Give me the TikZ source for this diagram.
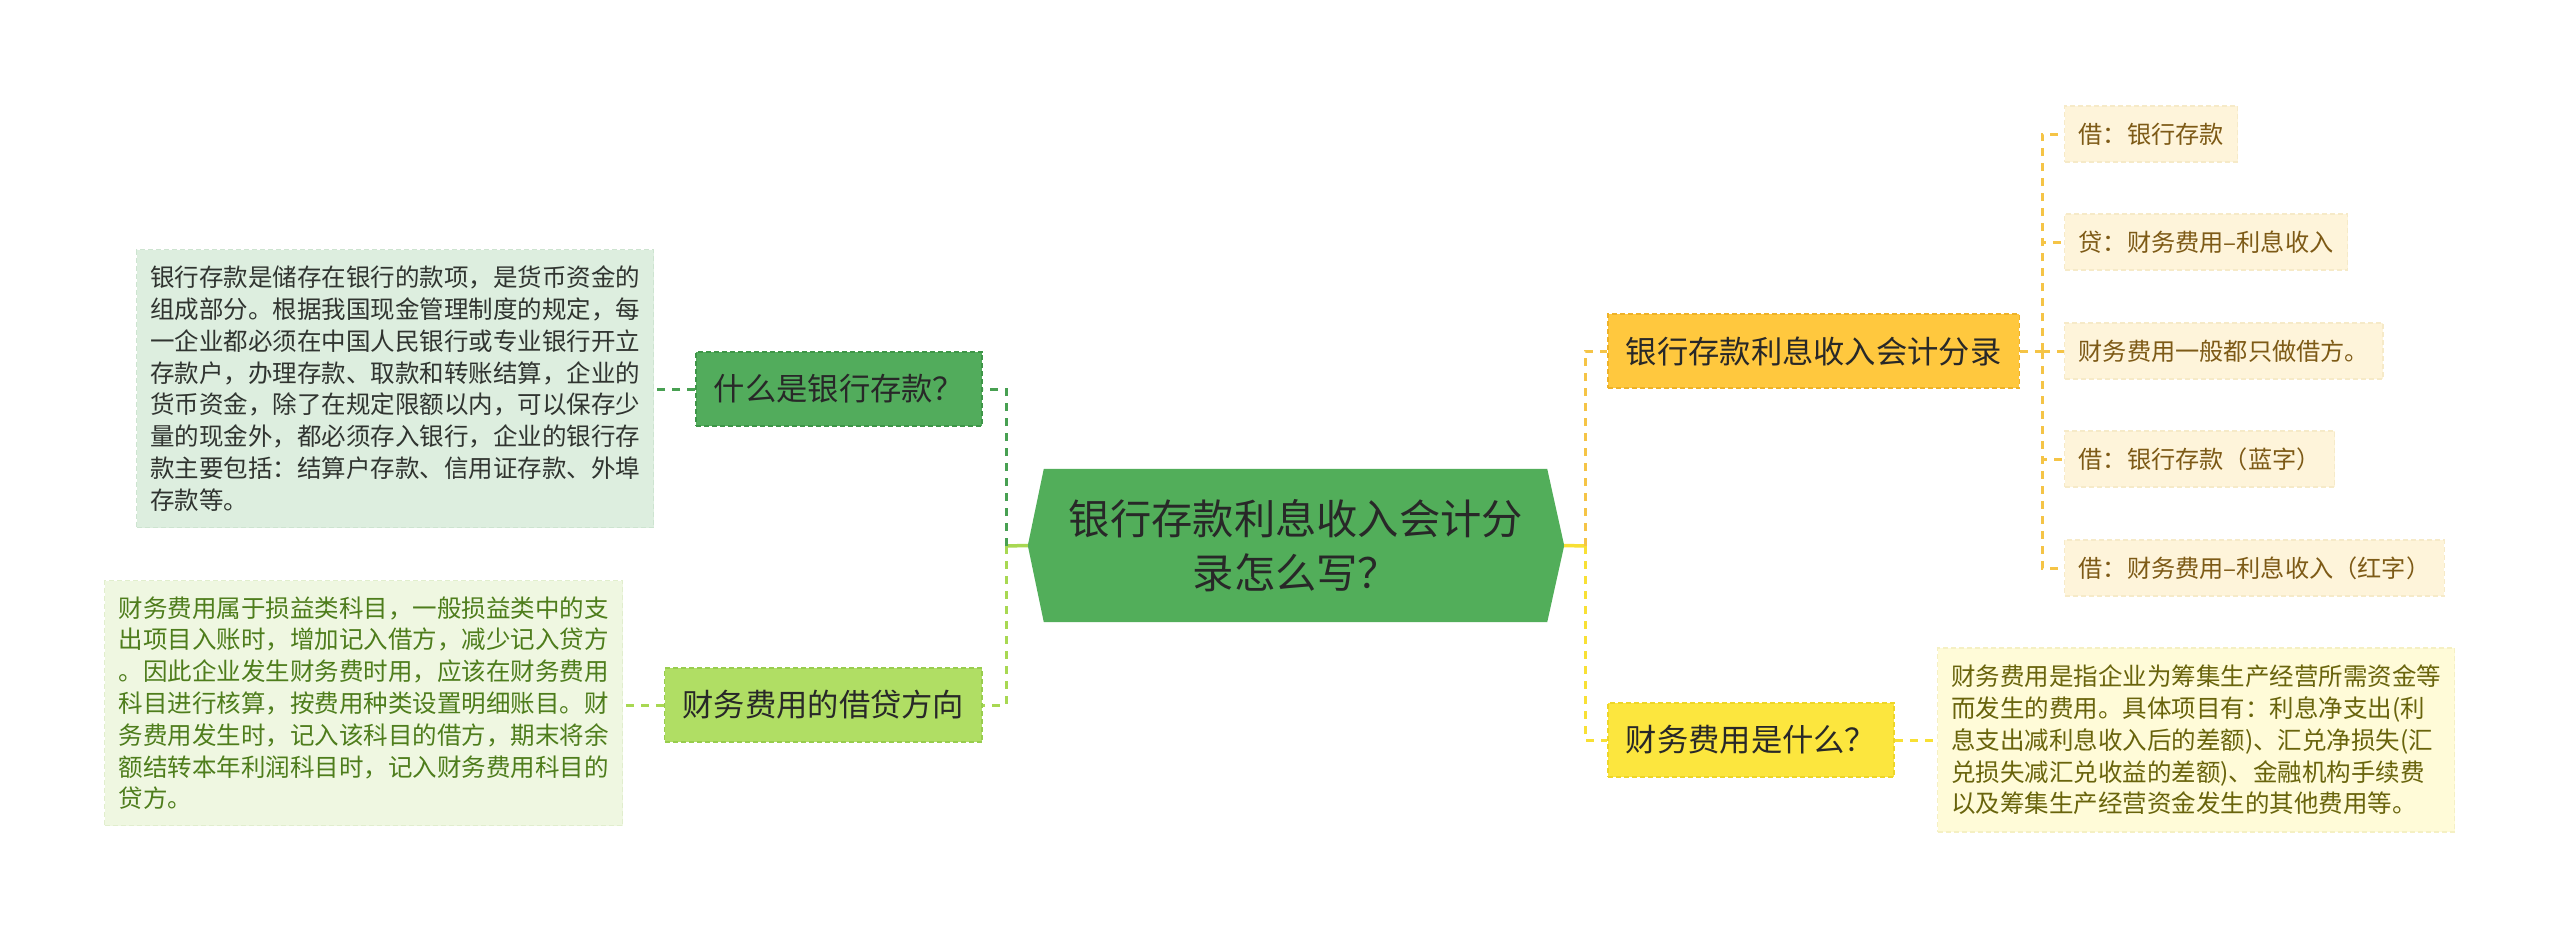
\documentclass[tikz,border=0pt]{standalone}
\usepackage{fontspec}
\newfontfamily\cjk{Noto Sans CJK SC}
\usetikzlibrary{backgrounds}
\definecolor{titletext}{RGB}{40,40,40}
\definecolor{rootgreen}{RGB}{82,174,90}
\definecolor{qonefill}{RGB}{82,172,92}
\definecolor{qoneborder}{RGB}{62,150,72}
\definecolor{qoneline}{RGB}{72,160,82}
\definecolor{qtwofill}{RGB}{176,222,100}
\definecolor{qtwoborder}{RGB}{152,205,78}
\definecolor{qtwoline}{RGB}{168,216,82}
\definecolor{leafonefill}{RGB}{221,238,223}
\definecolor{leafoneborder}{RGB}{205,228,208}
\definecolor{leafonetext}{RGB}{48,52,48}
\definecolor{leaftwofill}{RGB}{239,247,225}
\definecolor{leaftwoborder}{RGB}{225,238,205}
\definecolor{leaftwotext}{RGB}{78,125,28}
\definecolor{ronefill}{RGB}{255,200,62}
\definecolor{roneborder}{RGB}{238,178,40}
\definecolor{roneline}{RGB}{245,196,70}
\definecolor{rtwofill}{RGB}{252,230,62}
\definecolor{rtwoborder}{RGB}{238,214,40}
\definecolor{rtwoline}{RGB}{248,224,52}
\definecolor{afill}{RGB}{254,244,218}
\definecolor{aborder}{RGB}{246,234,200}
\definecolor{atext}{RGB}{125,90,22}
\definecolor{bfill}{RGB}{255,251,216}
\definecolor{bborder}{RGB}{245,240,195}
\definecolor{btext}{RGB}{105,100,12}
\begin{document}
\begin{tikzpicture}[x=1pt,y=-1pt,
  titlebox/.style={inner xsep=18pt, inner ysep=0pt, minimum height=74pt,
    text=titletext, font=\cjk\fontsize{31.3}{36}\selectfont,
    line width=1.6pt, dash pattern=on 5pt off 3pt},
  leafbox/.style={align=left, inner xsep=12pt, inner ysep=0pt,
    font=\cjk\fontsize{24.5}{31.8}\selectfont,
    line width=1.2pt, dash pattern=on 5pt off 3pt},
  smallleaf/.style={anchor=west, inner xsep=14pt, inner ysep=0pt, minimum height=56pt,
    fill=afill, draw=aborder, text=atext, font=\cjk\fontsize{24.2}{28}\selectfont,
    line width=1.2pt, dash pattern=on 5pt off 3pt},
  conn/.style={line width=3pt, dash pattern=on 8pt off 7pt},
  stem/.style={line width=3.5pt}
]
\useasboundingbox (0,0) rectangle (2560,937);

% root
\node[minimum width=536pt, minimum height=153pt, inner sep=0pt, align=center,
  text=titletext, font=\cjk\fontsize{41.3}{54}\selectfont] (root) at (1296,545.5)
  {银行存款利息收入会计分\\录怎么写？};
\begin{scope}[on background layer]
  \fill[white] (0,0) rectangle (2560,937);
  \fill[rootgreen] (root.west) -- ([xshift=16pt]root.north west) -- ([xshift=-17pt]root.north east)
    -- (root.east) -- ([xshift=-17pt]root.south east) -- ([xshift=16pt]root.south west) -- cycle;
\end{scope}

% left main topics
\node[titlebox, anchor=east, fill=qonefill, draw=qoneborder] (q1) at (983,389) {什么是银行存款？};
\node[titlebox, anchor=east, fill=qtwofill, draw=qtwoborder] (q2) at (983,705) {财务费用的借贷方向};

% left leaves
\node[leafbox, anchor=north west, minimum width=517pt, minimum height=278pt,
  fill=leafonefill, draw=leafoneborder, text=leafonetext] (l1) at (136,249)
  {银行存款是储存在银行的款项，是货币资金的\\
   组成部分。根据我国现金管理制度的规定，每\\
   一企业都必须在中国人民银行或专业银行开立\\
   存款户，办理存款、取款和转账结算，企业的\\
   货币资金，除了在规定限额以内，可以保存少\\
   量的现金外，都必须存入银行，企业的银行存\\
   款主要包括：结算户存款、信用证存款、外埠\\
   存款等。};
\node[leafbox, anchor=north west, minimum width=518pt, minimum height=245pt,
  fill=leaftwofill, draw=leaftwoborder, text=leaftwotext] (l2) at (104,580)
  {财务费用属于损益类科目，一般损益类中的支\\
   出项目入账时，增加记入借方，减少记入贷方\\
   。因此企业发生财务费时用，应该在财务费用\\
   科目进行核算，按费用种类设置明细账目。财\\
   务费用发生时，记入该科目的借方，期末将余\\
   额结转本年利润科目时，记入财务费用科目的\\
   贷方。};

% right main topics
\node[titlebox, anchor=west, fill=ronefill, draw=roneborder] (r1) at (1607,351) {银行存款利息收入会计分录};
\node[titlebox, anchor=west, fill=rtwofill, draw=rtwoborder] (r2) at (1607,740) {财务费用是什么？};

% right leaves of r1
\node[smallleaf] (a1) at (2064,134) {借：银行存款};
\node[smallleaf] (a2) at (2064,242) {贷：财务费用–利息收入};
\node[smallleaf] (a3) at (2064,351) {财务费用一般都只做借方。};
\node[smallleaf] (a4) at (2064,459) {借：银行存款（蓝字）};
\node[smallleaf] (a5) at (2064,568) {借：财务费用–利息收入（红字）};

% right leaf of r2
\node[leafbox, anchor=west, minimum width=517pt, minimum height=184pt,
  fill=bfill, draw=bborder, text=btext] (b1) at (1937,740)
  {财务费用是指企业为筹集生产经营所需资金等\\
   而发生的费用。具体项目有：利息净支出(利\\
   息支出减利息收入后的差额)、汇兑净损失(汇\\
   兑损失减汇兑收益的差额)、金融机构手续费\\
   以及筹集生产经营资金发生的其他费用等。};

% connectors
\coordinate (lj) at (1006,546);
\coordinate (rj) at (1585,546);
\coordinate (rk) at (2042,351);

\draw[stem, qtwoline] (root.west) -- (lj);
\draw[conn, qoneline] (lj) |- (q1.east);
\draw[conn, qtwoline] (lj) |- (q2.east);
\draw[conn, qoneline] (q1.west) -- (q1.west -| l1.east);
\draw[conn, qtwoline] (q2.west) -- (q2.west -| l2.east);

\draw[stem, rtwoline] (root.east) -- (rj);
\draw[conn, roneline] (rj) |- (r1.west);
\draw[conn, rtwoline] (rj) |- (r2.west);
\draw[conn, roneline] (r1.east) -- (rk);
\draw[conn, roneline] (rk) |- (a1.west);
\draw[conn, roneline] (rk) |- (a2.west);
\draw[conn, roneline] (rk) -- (a3.west);
\draw[conn, roneline] (rk) |- (a4.west);
\draw[conn, roneline] (rk) |- (a5.west);
\draw[conn, rtwoline] (r2.east) -- (b1.west);
\end{tikzpicture}
\end{document}
